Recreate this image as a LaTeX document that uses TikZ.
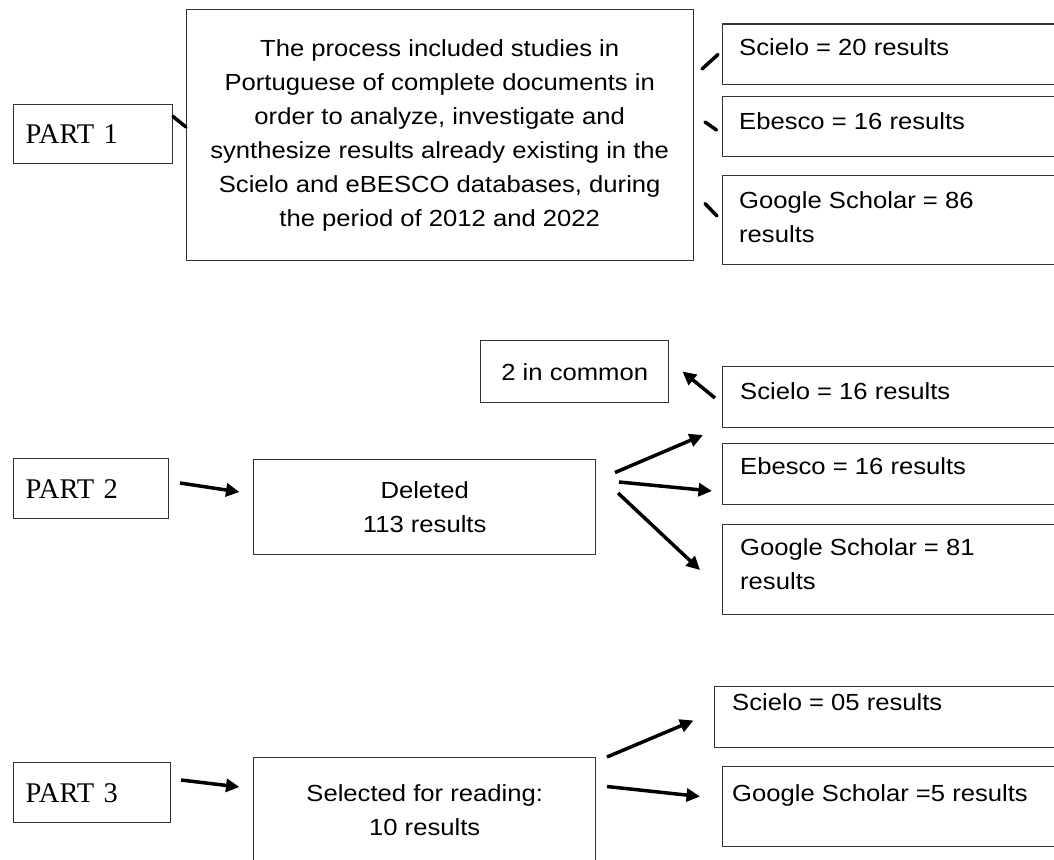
\documentclass[tikz,border=0pt]{standalone}
\usepackage{fontspec}
\setmainfont{Liberation Serif}
\newfontfamily\arialf[FakeStretch=1.1]{Liberation Sans}
\usetikzlibrary{arrows.meta}
\begin{document}
\begin{tikzpicture}[x=1pt,y=-1pt,
  box/.style={draw=black!80, line width=1.4pt, inner sep=0pt, anchor=north west},
  partbox/.style={box, inner xsep=12pt, align=left, font=\fontsize{28.5}{34}\selectfont},
  sans/.style={font=\arialf\fontsize{23.3}{34}\selectfont},
  lbl/.style={sans, inner sep=0pt, anchor=base west},
  conn/.style={line width=3.5pt, line cap=round},
  arr/.style={line width=3.5pt, -{Triangle[length=13.5pt,width=13pt]}}]
\useasboundingbox (0,0) rectangle (1054,859);
\fill[white] (0,0) rectangle (1054,859);
\clip (0,0) rectangle (1054,859);

% ---------------- PART 1 ----------------
\node[partbox, text width=135pt, minimum width=159pt, minimum height=59pt] (p1) at (13,104) {PART 1};
\node[box, sans, minimum width=507pt, minimum height=251pt, align=center] (big) at (185.5,9)
  {The process included studies in\\Portuguese of complete documents in\\order to analyze, investigate and\\synthesize results already existing in the\\Scielo and eBESCO databases, during\\the period of 2012 and 2022};
\node[box, minimum width=345pt, minimum height=60.5pt] (s20) at (722,23.5) {};
\node[box, minimum width=345pt, minimum height=60.5pt] (e16a) at (722,95.5) {};
\node[box, minimum width=345pt, minimum height=89.5pt] (g86) at (722,174.5) {};
\node[lbl] (s20t) at (739,55.5) {Scielo = 20 results};
\node[lbl] (e16at) at (739,129) {Ebesco = 16 results};
\node[lbl] (g86t) at (739,208) {Google Scholar = 86};
\node[lbl] (g86u) at (739,242) {results};

\coordinate (c1a) at (173,116.5); \coordinate (c1b) at (186,127);
\coordinate (c2a) at (702,69);   \coordinate (c2b) at (718,54.5);
\coordinate (c3a) at (705,122);  \coordinate (c3b) at (716.5,130);
\coordinate (c4a) at (705,203.5);\coordinate (c4b) at (717,216);
\draw[conn] (c1a) -- (c1b);
\draw[conn] (c2a) -- (c2b);
\draw[conn] (c3a) -- (c3b);
\draw[conn] (c4a) -- (c4b);

% ---------------- PART 2 ----------------
\node[partbox, text width=131pt, minimum width=155pt, minimum height=60pt] (p2) at (13,458) {PART 2};
\node[box, sans, minimum width=342pt, minimum height=95pt, align=center] (del) at (253,459) {Deleted\\113 results};
\node[box, sans, minimum width=188pt, minimum height=62pt] (com) at (480,340) {2 in common};
\node[box, minimum width=345pt, minimum height=61pt] (s16) at (722,366) {};
\node[box, minimum width=345pt, minimum height=61pt] (e16b) at (722,442.5) {};
\node[box, minimum width=345pt, minimum height=90.5pt] (g81) at (722,523.5) {};
\node[lbl] (s16t) at (740,399) {Scielo = 16 results};
\node[lbl] (e16bt) at (740,474.5) {Ebesco = 16 results};
\node[lbl] (g81t) at (740,555.5) {Google Scholar = 81};
\node[lbl] (g81u) at (740,589.5) {results};

\coordinate (a1s) at (180,483);   \coordinate (a1e) at (239.5,492);
\coordinate (a2s) at (715,398);   \coordinate (a2e) at (682.5,371.5);
\coordinate (a3s) at (615,472.5); \coordinate (a3e) at (703,435);
\coordinate (a4s) at (619,482);   \coordinate (a4e) at (712,491);
\coordinate (a5s) at (618,493);   \coordinate (a5e) at (700,570);
\draw[arr] (a1s) -- (a1e);
\draw[arr] (a2s) -- (a2e);
\draw[arr] (a3s) -- (a3e);
\draw[arr] (a4s) -- (a4e);
\draw[arr] (a5s) -- (a5e);

% ---------------- PART 3 ----------------
\node[partbox, text width=133pt, minimum width=157pt, minimum height=60pt] (p3) at (13,762) {PART 3};
\node[box, sans, minimum width=342pt, minimum height=104pt, align=center] (sel) at (253,757) {Selected for reading:\\10 results};
\node[box, minimum width=350pt, minimum height=61pt] (s05) at (714,686) {};
\node[box, minimum width=345pt, minimum height=80pt] (g5) at (722,766) {};
\node[lbl] (s05t) at (732,710) {Scielo = 05 results};
\node[lbl] (g5t) at (732,801.5) {Google Scholar =5 results};

\coordinate (b1s) at (181,780);   \coordinate (b1e) at (239.5,787);
\coordinate (b2s) at (607,757);   \coordinate (b2e) at (693.5,720.5);
\coordinate (b3s) at (607,786.5); \coordinate (b3e) at (700,796.5);
\draw[arr] (b1s) -- (b1e);
\draw[arr] (b2s) -- (b2e);
\draw[arr] (b3s) -- (b3e);
\end{tikzpicture}
\end{document}
